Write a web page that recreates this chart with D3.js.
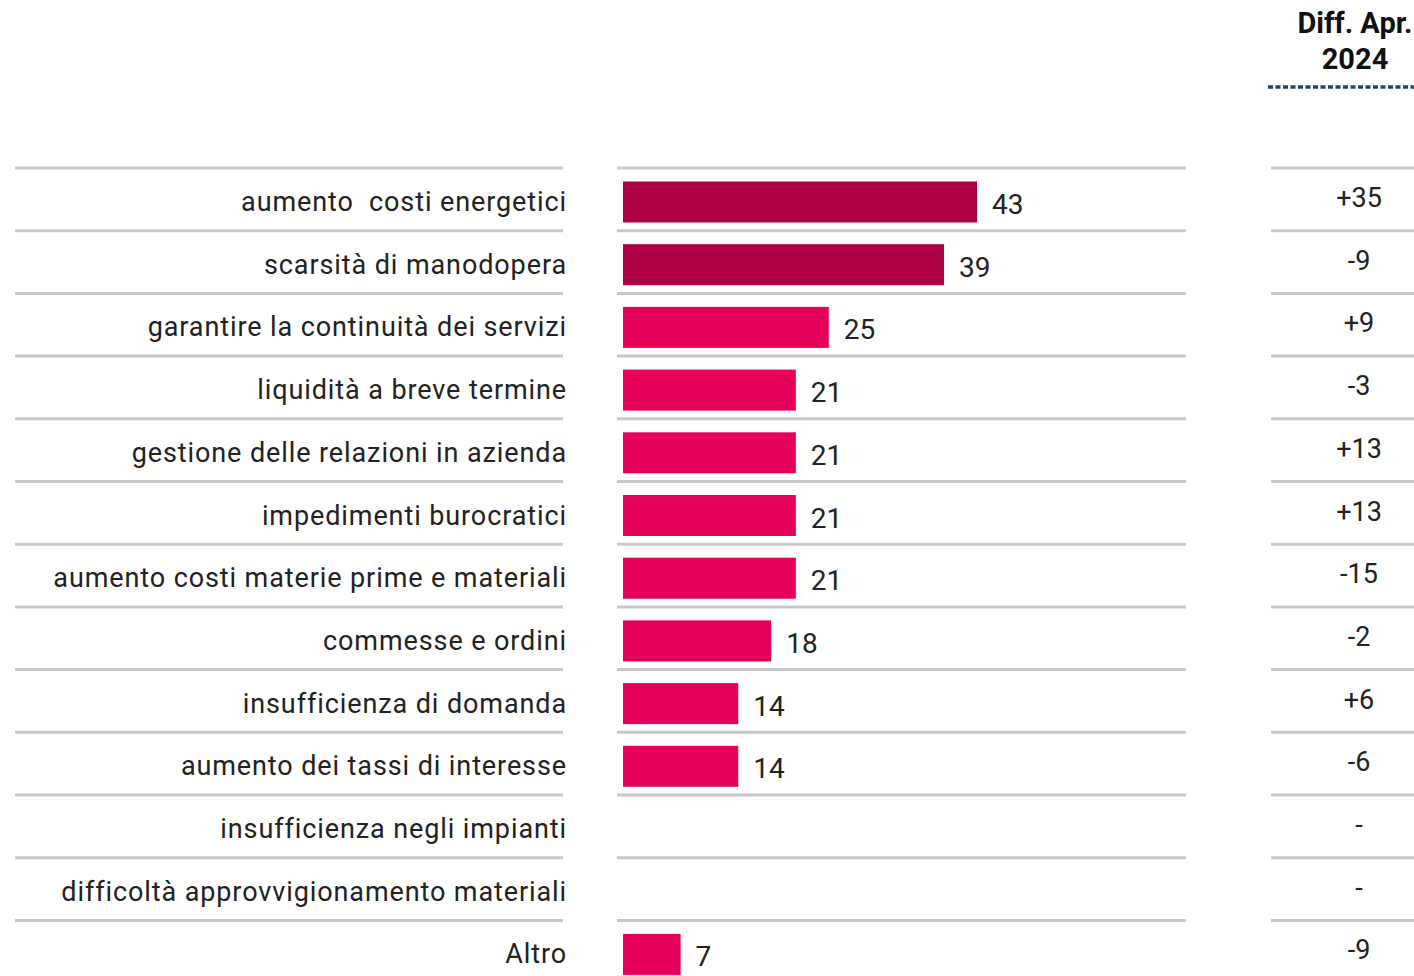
<!DOCTYPE html>
<html><head><meta charset="utf-8">
<script src="https://cdn.jsdelivr.net/npm/d3@7"></script>
<style>html,body{margin:0;padding:0;background:#fff;overflow:hidden}svg{display:block}</style>
</head><body>
<svg id="c" width="1414" height="976"></svg>
<script>
const categories = [
  "aumento  costi energetici",
  "scarsità di manodopera",
  "garantire la continuità dei servizi",
  "liquidità a breve termine",
  "gestione delle relazioni in azienda",
  "impedimenti burocratici",
  "aumento costi materie prime e materiali",
  "commesse e ordini",
  "insufficienza di domanda",
  "aumento dei tassi di interesse",
  "insufficienza negli impianti",
  "difficoltà approvvigionamento materiali",
  "Altro"
];
const values = [43, 39, 25, 21, 21, 21, 21, 18, 14, 14, null, null, 7];
const diffs = ["+35", "-9", "+9", "-3", "+13", "+13", "-15", "-2", "+6", "-6", "-", "-", "-9"];
const highlighted = [true, true, false, false, false, false, false, false, false, false, false, false, false];
const headerLines = ["Diff. Apr.", "2024"];

const svg = d3.select("#c");
const font = "Roboto, 'Liberation Sans', sans-serif";

const y = d3.scaleBand().domain(categories).range([168, 168 + 13 * 62.7]).padding(0);
const x = d3.scaleLinear().domain([0, 69]).range([623, 1191]);

// separator lines
const segs = [[15, 563], [617, 1186], [1271, 1414]];
categories.forEach(c => {
  segs.forEach(s => {
    svg.append("line").attr("x1", s[0]).attr("x2", s[1])
      .attr("y1", y(c)).attr("y2", y(c))
      .attr("stroke", "#c8c8c8").attr("stroke-width", 3);
  });
});

// labels
svg.append("g").selectAll("text").data(categories).join("text")
  .attr("x", 567).attr("y", d => y(d) + 43)
  .attr("text-anchor", "end")
  .attr("font-family", font).attr("font-size", 27).attr("fill", "#222")
  .attr("letter-spacing", 0.9)
  .style("white-space", "pre")
  .text(d => d);

// bars
const data = categories.map((c, i) => ({c, v: values[i], h: highlighted[i], d: diffs[i]}));
const withVal = data.filter(d => d.v != null);
svg.append("g").selectAll("rect").data(withVal).join("rect")
  .attr("x", x(0)).attr("y", d => y(d.c) + 13.5)
  .attr("width", d => x(d.v) - x(0)).attr("height", 41)
  .attr("fill", d => d.h ? "#ad0045" : "#e5005a");

svg.append("g").selectAll("text").data(withVal).join("text")
  .attr("x", d => x(d.v) + 15).attr("y", d => y(d.c) + 46)
  .attr("font-family", font).attr("font-size", 28).attr("fill", "#222")
  .text(d => d.v);

// diffs
svg.append("g").selectAll("text").data(data).join("text")
  .attr("x", 1359).attr("y", d => y(d.c) + 39)
  .attr("text-anchor", "middle")
  .attr("font-family", font).attr("font-size", 27).attr("fill", "#222")
  .text(d => d.d);

// header
svg.append("g").selectAll("text").data(headerLines).join("text")
  .attr("x", 1355).attr("y", (d, i) => 33 + i * 36)
  .attr("text-anchor", "middle")
  .attr("font-family", font).attr("font-weight", "bold").attr("font-size", 29).attr("fill", "#111")
  .text(d => d);

svg.append("line").attr("x1", 1268).attr("x2", 1414).attr("y1", 87).attr("y2", 87)
  .attr("stroke", "#1f4a5c").attr("stroke-width", 3.5).attr("stroke-dasharray", "5,2.5");
</script>
</body></html>
